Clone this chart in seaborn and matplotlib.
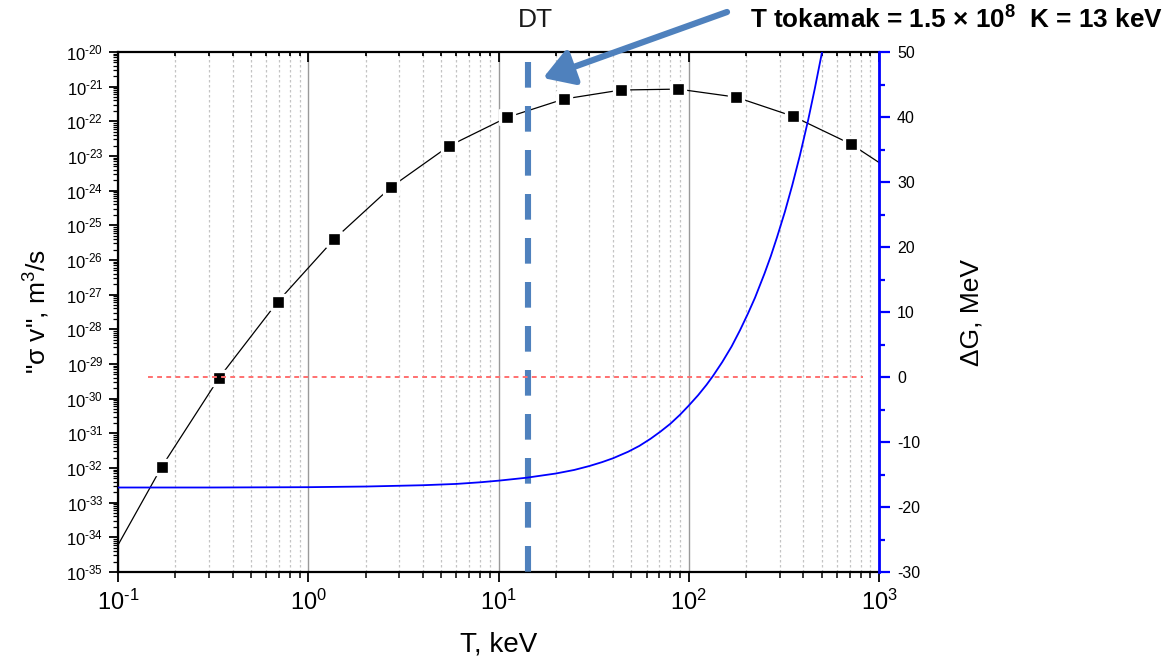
import numpy as np
import pandas as pd
import matplotlib
matplotlib.use("Agg")
import matplotlib.pyplot as plt
import seaborn as sns
from matplotlib import ticker
from matplotlib import patheffects as pe

# ---------------- data ----------------
T_points = [0.17, 0.34, 0.69, 1.37, 2.72, 5.5, 11.1, 22.1, 44, 88, 177, 353, 713]
sigmav_points = [1.1e-32, 4e-30, 6.2e-28, 4e-26, 1.26e-24, 1.95e-23, 1.3e-22,
                 4.4e-22, 8e-22, 8.5e-22, 5e-22, 1.4e-22, 2.2e-23]
T_line_ends = [0.1, 1000]
sigmav_line_ends = [6e-35, 6.5e-24]

T_dG = [0.1, 0.3, 1, 2, 4, 6, 8, 10, 14, 20, 25, 30, 35, 40, 48, 55, 63, 71,
        80, 90, 100, 112, 124, 134, 150, 168, 186, 205, 223, 250, 270, 291,
        320, 350, 384, 424, 460, 502]
dG = [-17.0, -17.0, -16.95, -16.85, -16.65, -16.45, -16.2, -15.95, -15.5, -14.85,
      -14.3, -13.7, -13.1, -12.5, -11.5, -10.6, -9.5, -8.4, -7.2, -5.8, -4.4,
      -2.8, -1.2, 0.15, 2.3, 4.7, 7.2, 9.8, 12.2, 15.9, 18.6, 21.5, 25.4,
      29.5, 34.1, 39.5, 44.4, 50.0]

zero_line_T = [0.144, 820]
zero_line_dG = [0, 0]

T_tokamak = 14.3
x_ticks = [0.1, 1, 10, 100, 1000]
y_left_ticks = [10.0 ** e for e in range(-35, -19)]
y_right_ticks = list(range(-30, 51, 10))

# ---------------- style ----------------
sns.set_style("white")
plt.rcParams["font.family"] = ["Liberation Sans", "DejaVu Sans"]
plt.rcParams["mathtext.fontset"] = "custom"
plt.rcParams["mathtext.rm"] = "Liberation Sans"
plt.rcParams["mathtext.it"] = "Liberation Sans:italic"
plt.rcParams["mathtext.bf"] = "Liberation Sans:bold"
plt.rcParams["axes.unicode_minus"] = False
for k in ["text.color", "axes.labelcolor", "xtick.color", "ytick.color"]:
    plt.rcParams[k] = "black"

HYPHEN = "\u2010"


def pow10(v, p):
    e = int(round(np.log10(v)))
    if e < 0:
        return "$10^{" + HYPHEN + str(-e) + "}$"
    return "$10^{" + str(e) + "}$"


W, H = 1171, 658
fig = plt.figure(figsize=(W / 100, H / 100), dpi=100)
ax = fig.add_axes([118 / W, 1 - 572 / H, (879 - 118) / W, (572 - 52) / H])
ax.set_xscale("log")
ax.set_yscale("log")

line_df = pd.DataFrame({
    "T": [T_line_ends[0]] + T_points + [T_line_ends[1]],
    "sv": [sigmav_line_ends[0]] + sigmav_points + [sigmav_line_ends[1]],
})
pts_df = pd.DataFrame({"T": T_points, "sv": sigmav_points})

sns.lineplot(data=line_df, x="T", y="sv", ax=ax, color="black", lw=0.9,
             estimator=None, sort=False, zorder=3)
sns.scatterplot(data=pts_df, x="T", y="sv", ax=ax, marker="s", s=95,
                color="black", edgecolor="white", linewidth=2.4, zorder=4)

ax.set_xlim(0.1, 1000)
ax.set_ylim(1e-35, 1e-20)

# vertical dashed DT line
ax.plot([T_tokamak, T_tokamak], [5e-21, 1e-35], color="#4F81BD", lw=4.4,
        ls=(0, (4.2, 3.0)), solid_capstyle="butt", dash_capstyle="butt", zorder=5)

# ticks and grid
ax.xaxis.set_major_locator(ticker.FixedLocator(x_ticks))
ax.xaxis.set_minor_locator(ticker.LogLocator(base=10, subs=np.arange(2, 10), numticks=100))
ax.yaxis.set_major_locator(ticker.FixedLocator(y_left_ticks))
ax.yaxis.set_minor_locator(ticker.LogLocator(base=10, subs=np.arange(2, 10), numticks=200))
ax.xaxis.set_minor_formatter(ticker.NullFormatter())
ax.yaxis.set_minor_formatter(ticker.NullFormatter())
ax.xaxis.set_major_formatter(ticker.FuncFormatter(pow10))
ax.yaxis.set_major_formatter(ticker.FuncFormatter(pow10))

ax.grid(False)
ax.grid(True, which="major", axis="x", color="#9a9a9a", lw=1.0, ls="-")
ax.grid(True, which="minor", axis="x", color="#c4c4c4", lw=0.9, ls=(0, (2, 2)))

for s in ["left", "bottom", "top"]:
    ax.spines[s].set_color("black")
    ax.spines[s].set_linewidth(1.6)
ax.spines["right"].set_visible(False)

ax.tick_params(axis="x", which="major", direction="out", length=7, width=1.3,
               labelsize=17, pad=6, top=False, bottom=True, colors="black")
ax.tick_params(axis="x", which="minor", direction="out", length=4, width=1.1,
               top=False, bottom=True)
ax.tick_params(axis="y", which="major", direction="out", length=6.5, width=1.3,
               labelsize=12, pad=4, left=True, right=False)
ax.tick_params(axis="y", which="minor", direction="out", length=3.5, width=0.9,
               left=True, right=False)

ax.set_xlabel("T, keV", fontsize=20, labelpad=12)
ax.set_ylabel(r'"σ v", m$^3$/s', fontsize=19, labelpad=10)

# ---------------- right axis ----------------
ax2 = ax.twinx()
sns.lineplot(x=T_dG, y=dG, ax=ax2, color="#0000ff", lw=1.3, estimator=None, zorder=3)
ax2.plot(zero_line_T, zero_line_dG, color="#ff7070", lw=1.4, ls=(0, (2.5, 2.2)), zorder=2)
ax2.set_ylim(-30, 50)
ax2.set_xlim(0.1, 1000)
ax2.yaxis.set_major_locator(ticker.FixedLocator(y_right_ticks))
ax2.yaxis.set_minor_locator(ticker.MultipleLocator(5))
ax2.grid(False)
for s in ["left", "bottom", "top"]:
    ax2.spines[s].set_visible(False)
ax2.spines["right"].set_color("#0000ff")
ax2.spines["right"].set_linewidth(2.0)
ax2.tick_params(axis="y", which="major", direction="out", length=8, width=1.6,
                color="#0000ff", labelcolor="black", labelsize=11.5, pad=5)
ax2.tick_params(axis="y", which="minor", direction="out", length=4.5, width=1.6,
                color="#0000ff")
ax2.set_ylabel("ΔG, MeV", fontsize=19, labelpad=28)

# top ticks (inward) via shared x axis of ax2
ax2.xaxis.set_visible(True)
ax2.tick_params(axis="x", which="both", direction="in", top=True, bottom=False,
                labeltop=False, labelbottom=False, width=1.3, color="black")
ax2.tick_params(axis="x", which="major", length=7)
ax2.tick_params(axis="x", which="minor", length=3)
ax2.set_xlabel("")

# ---------------- annotations ----------------
fig.text(535 / W, 1 - 20 / H, "DT", fontsize=19, ha="center", va="center", color="#1a1a1a")
fig.text(750 / W, 1 - 20 / H, r"T tokamak = 1.5 × 10$^{\mathbf{8}}$  K = 13 keV",
         fontsize=18.8, fontweight="bold", ha="left", va="center")

ann = fig.add_artist(matplotlib.patches.FancyArrowPatch(
    (727 / W, 1 - 12 / H), (543 / W, 1 - 78 / H), transform=fig.transFigure,
    arrowstyle="-|>,head_length=0.9,head_width=0.55", mutation_scale=20,
    color="#4F81BD", lw=4.5, shrinkA=0, shrinkB=0))
ann.set_path_effects([pe.SimplePatchShadow(offset=(2, -2), alpha=0.3), pe.Normal()])

fig.savefig("out.png", dpi=100)
